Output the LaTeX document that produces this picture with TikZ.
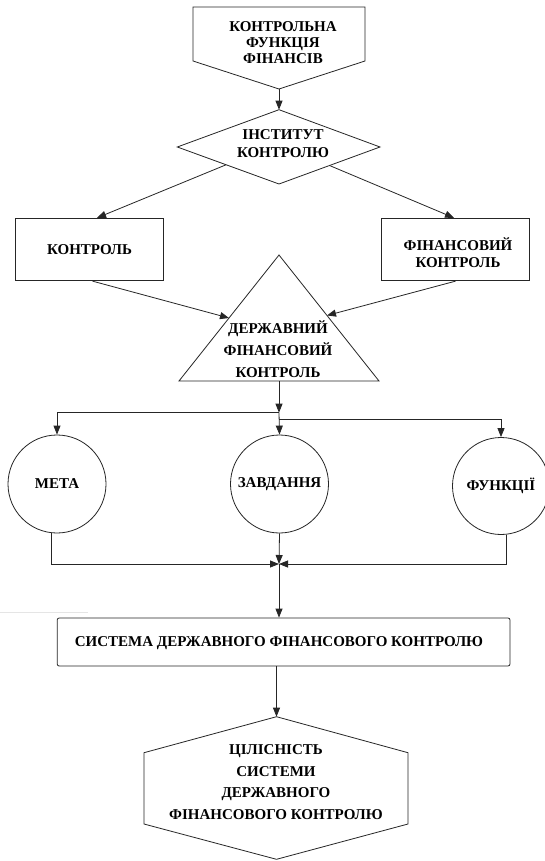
\documentclass[tikz,border=0pt]{standalone}
\usepackage{fontspec}
\setmainfont{Liberation Serif}
\usetikzlibrary{arrows.meta,calc}
\begin{document}
\begin{tikzpicture}[x=1pt,y=-1pt,
  ln/.style={line width=0.8pt, draw=black!85},
  arr/.style={ln, -{Triangle[length=9pt,width=7pt]}},
  txt/.style={font=\fontsize{15}{16}\selectfont\bfseries, align=center, inner sep=0pt},
  boxshape/.style={ln, rectangle, inner sep=0pt},
  circ/.style={ln, circle, inner sep=0pt, minimum size=98pt, font=\fontsize{15}{16}\selectfont\bfseries}
]
\useasboundingbox (0,0) rectangle (544,861);
\fill[white] (0,0) rectangle (544,861);

% faint artefact line
\draw[black!10, line width=0.5pt] (0,612) -- (88,612);

% top pentagon
\coordinate (p1) at (193,7);
\coordinate (p2) at (365,7);
\coordinate (p3) at (365,61);
\coordinate (p4) at (279,89);
\coordinate (p5) at (193,61);
\draw[ln] (p1) -- (p2) -- (p3) -- (p4) -- (p5) -- cycle;
\node[txt, font=\fontsize{15}{16}\selectfont\bfseries] (ptxt) at (283,43) {КОНТРОЛЬНА\\ФУНКЦІЯ\\ФІНАНСІВ};

% diamond
\coordinate (d1) at (279,109.7);
\coordinate (d2) at (380,147);
\coordinate (d3) at (279,184);
\coordinate (d4) at (177.3,147);
\draw[ln] (d1) -- (d2) -- (d3) -- (d4) -- cycle;
\node[txt, font=\fontsize{15}{18}\selectfont\bfseries] (dtxt) at (283,144) {ІНСТИТУТ\\КОНТРОЛЮ};
\draw[arr] (p4) -- (d1);

% boxes
\node[boxshape, minimum width=148pt, minimum height=62.5pt, font=\fontsize{15}{16}\selectfont\bfseries] (k) at (89.6,249.5) {КОНТРОЛЬ};
\node[boxshape, minimum width=148.5pt, minimum height=62.5pt] (fk) at (455.5,249.5) {};
\node[txt, font=\fontsize{15}{16.7}\selectfont\bfseries] (fktxt) at (458,253) {ФІНАНСОВИЙ\\КОНТРОЛЬ};

\coordinate (dl) at ($(d4)!0.48!(d3)$);
\coordinate (dr) at ($(d2)!0.5!(d3)$);
\draw[arr] (dl) -- ($(k.north west)!0.55!(k.north east)$);
\draw[arr] (dr) -- ($(fk.north west)!0.49!(fk.north east)$);

% triangle
\coordinate (ta) at (279,255);
\coordinate (tb1) at (179,381);
\coordinate (tb2) at (379,381);
\draw[ln] (ta) -- (tb2) -- (tb1) -- cycle;
\node[txt, font=\fontsize{15}{21.7}\selectfont\bfseries] (ttxt) at (278,349) {ДЕРЖАВНИЙ\\ФІНАНСОВИЙ\\КОНТРОЛЬ};
\draw[arr] ($(k.south west)!0.52!(k.south east)$) -- ($(ta)!0.5!(tb1)$);
\draw[arr] ($(fk.south west)!0.5!(fk.south east)$) -- ($(ta)!0.48!(tb2)$);

% circles
\node[circ] (meta) at (57,484) {МЕТА};
\node[circ] (zav) at (279.5,484) {ЗАВДАННЯ};
\node[circ, minimum size=97pt] (funk) at (501,486) {ФУНКЦІЇ};

% junction 1
\coordinate (tbm) at ($(tb1)!0.5!(tb2)$);
\coordinate (j1) at (279,412.7);
\coordinate (j1b) at (279,419);
\draw[arr] (tbm) -- (j1);
\draw[arr] (j1) -| (meta.north);
\draw[arr] (j1) -- (zav.north);
\draw[arr] (j1b) -| (funk.north);

% junction 2
\coordinate (j2) at (279,564);
\draw[arr] (meta.-96) |- (j2);
\draw[arr] (funk.-84) |- (j2);
\draw[arr] (zav.south) -- (j2);

% system box
\node[boxshape, rounded corners=2pt, minimum width=452.8pt, minimum height=48pt] (sys) at (283.6,642) {};
\node[txt] (systxt) at (279,643) {СИСТЕМА ДЕРЖАВНОГО ФІНАНСОВОГО КОНТРОЛЮ};
\draw[arr] (j2) -- (j2 |- sys.north);

% hexagon
\coordinate (h1) at (276.5,716.7);
\coordinate (h2) at (408,752.7);
\coordinate (h3) at (408,824);
\coordinate (h4) at (276.5,859.3);
\coordinate (h5) at (144,824);
\coordinate (h6) at (144,752.7);
\draw[ln] (h1) -- (h2) -- (h3) -- (h4) -- (h5) -- (h6) -- cycle;
\node[txt, font=\fontsize{15}{21.7}\selectfont\bfseries] (htxt) at (276,782) {ЦІЛІСНІСТЬ\\СИСТЕМИ\\ДЕРЖАВНОГО\\ФІНАНСОВОГО КОНТРОЛЮ};
\draw[arr] (h1 |- sys.south) -- (h1);
\end{tikzpicture}
\end{document}
